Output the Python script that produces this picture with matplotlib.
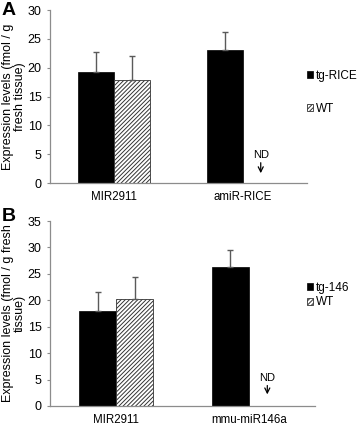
import numpy as np
import matplotlib.pyplot as plt

plt.rcParams['font.family'] = ['Liberation Sans', 'DejaVu Sans']
plt.rcParams['hatch.linewidth'] = 0.7

# panel A
cats_a = ['MIR2911', 'amiR-RICE']
tg_a = [19.3, 23.0]
tg_a_err = [3.4, 3.2]
wt_a = [17.8, 0.0]
wt_a_err = [4.2, 0.0]

# panel B
cats_b = ['MIR2911', 'mmu-miR146a']
tg_b = [18.0, 26.3]
tg_b_err = [3.5, 3.3]
wt_b = [20.3, 0.0]
wt_b_err = [4.2, 0.0]

spine_col = '#8c8c8c'
err_col = '#5a5a5a'

fig = plt.figure(figsize=(3.58, 4.25), dpi=100)
ax1 = fig.add_axes([50/358, 1-183/425, 257/358, 173/425])
ax2 = fig.add_axes([50/358, 1-406/425, 265/358, 185/425])


def panel(ax, cats, tg, tg_err, wt, wt_err, tg_name, ymax, ylabel,
          leg_y, leg_space, nd_y):
    x = np.arange(len(cats))
    w = 0.28
    ax.bar(x - w/2, tg, w, color='black', edgecolor='black', linewidth=0.5,
           label=tg_name)
    ax.bar(x + w/2, wt, w, color='white', edgecolor='#333333', linewidth=0.6,
           hatch='////////', label='WT')
    for xi, v, e in zip(x - w/2, tg, tg_err):
        if e > 0:
            ax.errorbar(xi, v, yerr=[[0], [e]], color=err_col, lw=1.0,
                        capsize=2.5, capthick=1.0)
    for xi, v, e in zip(x + w/2, wt, wt_err):
        if e > 0:
            ax.errorbar(xi, v, yerr=[[0], [e]], color=err_col, lw=1.0,
                        capsize=2.5, capthick=1.0)
    # not detected marker
    for xi, v in zip(x + w/2, wt):
        if v == 0:
            ax.annotate('ND', xy=(xi, nd_y[1]), xytext=(xi, nd_y[0]),
                        ha='center', va='bottom', fontsize=8,
                        arrowprops=dict(arrowstyle='->', color='black', lw=0.9,
                                        mutation_scale=9,
                                        shrinkA=0, shrinkB=0))
    ax.set_xlim(-0.5, len(cats) - 0.5)
    ax.set_ylim(0, ymax)
    ax.set_yticks(np.arange(0, ymax + 1, 5))
    ax.set_xticks(x)
    ax.set_xticklabels(cats)
    ax.tick_params(axis='x', length=0, labelsize=8.3, pad=6)
    ax.tick_params(axis='y', length=2, width=0.8, color=spine_col,
                   labelsize=9, pad=4)
    for s in ['top', 'right']:
        ax.spines[s].set_visible(False)
    for s in ['left', 'bottom']:
        ax.spines[s].set_color(spine_col)
        ax.spines[s].set_linewidth(0.9)
    ax.set_ylabel(ylabel, fontsize=9, linespacing=0.95)
    ax.yaxis.set_label_coords(-24/ax.get_position().width/358, 0.5)
    ax.legend(loc='upper left', bbox_to_anchor=(301/358, leg_y),
              bbox_transform=fig.transFigure, frameon=False, fontsize=8.5,
              handlelength=0.55, handleheight=0.55, handletextpad=0.2,
              labelspacing=leg_space, borderpad=0)


panel(ax1, cats_a, tg_a, tg_a_err, wt_a, wt_a_err, 'tg-RICE', 30,
      'Expression levels (fmol / g\nfresh tissue)', 1-64/425, 1.75, (4.0, 1.7))
panel(ax2, cats_b, tg_b, tg_b_err, wt_b, wt_b_err, 'tg-146', 35,
      'Expression levels (fmol / g fresh\ntissue)', 1-276/425, 0.2, (4.4, 2.2))

fig.text(0.005, 1-2/425, 'A', fontsize=14, fontweight='bold', va='top')
fig.text(0.005, 1-208/425, 'B', fontsize=14, fontweight='bold', va='top')

fig.savefig('out.png', dpi=100)
